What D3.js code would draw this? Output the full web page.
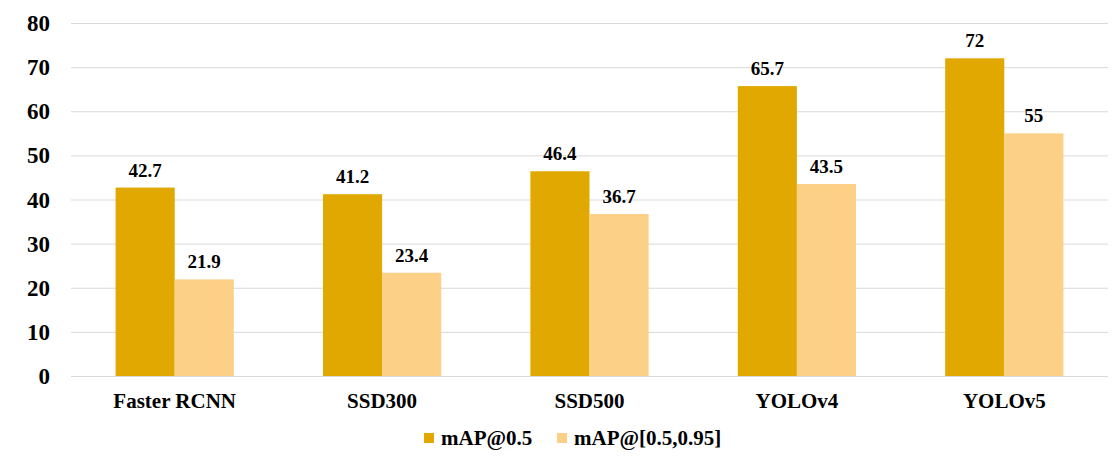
<!DOCTYPE html>
<html>
<head>
<meta charset="utf-8">
<script src="https://cdn.jsdelivr.net/npm/d3@7"></script>
<style>
  html, body { margin: 0; padding: 0; background: #fff; }
</style>
</head>
<body>
<svg id="chart" width="1116" height="463"></svg>
<script>
const categories = ["Faster RCNN", "SSD300", "SSD500", "YOLOv4", "YOLOv5"];
const map50 = [42.7, 41.2, 46.4, 65.7, 72];
const map5095 = [21.9, 23.4, 36.7, 43.5, 55];
const seriesNames = ["mAP@0.5", "mAP@[0.5,0.95]"];
const yTicks = [0, 10, 20, 30, 40, 50, 60, 70, 80];

const svg = d3.select("#chart");
const width = 1116, height = 463;
const margin = { top: 23, right: 8, bottom: 87, left: 71 };
const serif = "Liberation Serif";

const data = categories.map((c, i) => ({ cat: c, s0: map50[i], s1: map5095[i] }));
const keys = ["s0", "s1"];
const color = d3.scaleOrdinal().domain(keys).range(["#E0A800", "#FDD088"]);

const x0 = d3.scaleBand()
  .domain(categories)
  .range([margin.left, width - margin.right])
  .paddingInner(0.43)
  .paddingOuter(0.215);

const x1 = d3.scaleBand().domain(keys).range([0, x0.bandwidth()]);

const y = d3.scaleLinear().domain([0, 80]).range([height - margin.bottom, margin.top]);

// gridlines
svg.append("g")
  .selectAll("line")
  .data(yTicks)
  .join("line")
  .attr("x1", margin.left)
  .attr("x2", width - margin.right)
  .attr("y1", d => y(d) + 0.5)
  .attr("y2", d => y(d) + 0.5)
  .attr("stroke", "#d9d9d9")
  .attr("stroke-width", 1);

// y labels
svg.append("g")
  .selectAll("text")
  .data(yTicks)
  .join("text")
  .attr("x", 50)
  .attr("y", d => y(d))
  .attr("dy", "0.35em")
  .attr("text-anchor", "end")
  .style("font-family", serif)
  .style("font-weight", "700")
  .style("font-size", "23px")
  .attr("fill", "#000")
  .text(d => d);

// bars
const groups = svg.append("g")
  .selectAll("g")
  .data(data)
  .join("g")
  .attr("transform", d => `translate(${x0(d.cat)},0)`);

groups.selectAll("rect")
  .data(d => keys.map(k => ({ key: k, value: d[k] })))
  .join("rect")
  .attr("x", d => x1(d.key))
  .attr("y", d => y(d.value))
  .attr("width", x1.bandwidth())
  .attr("height", d => y(0) - y(d.value))
  .attr("fill", d => color(d.key));

groups.selectAll("text")
  .data(d => keys.map(k => ({ key: k, value: d[k] })))
  .join("text")
  .attr("x", d => x1(d.key) + x1.bandwidth() / 2)
  .attr("y", d => y(d.value) - 11)
  .attr("text-anchor", "middle")
  .style("font-family", serif)
  .style("font-weight", "700")
  .style("font-size", "19px")
  .attr("fill", "#000")
  .text(d => d.value);

// category labels
svg.append("g")
  .selectAll("text")
  .data(categories)
  .join("text")
  .attr("x", d => x0(d) + x0.bandwidth() / 2)
  .attr("y", 408)
  .attr("text-anchor", "middle")
  .style("font-family", serif)
  .style("font-weight", "700")
  .style("font-size", "21px")
  .attr("fill", "#000")
  .text(d => d);

// legend
const legendX = [424, 557];
const legend = svg.append("g")
  .selectAll("g")
  .data(keys)
  .join("g")
  .attr("transform", (d, i) => `translate(${legendX[i]},438)`);

legend.append("rect")
  .attr("x", 0)
  .attr("y", -5)
  .attr("width", 10)
  .attr("height", 10)
  .attr("fill", d => color(d));

legend.append("text")
  .attr("x", 17)
  .attr("y", 0)
  .attr("dy", "0.35em")
  .style("font-family", serif)
  .style("font-weight", "700")
  .style("font-size", "21px")
  .attr("fill", "#000")
  .text((d, i) => seriesNames[i]);
</script>
</body>
</html>
